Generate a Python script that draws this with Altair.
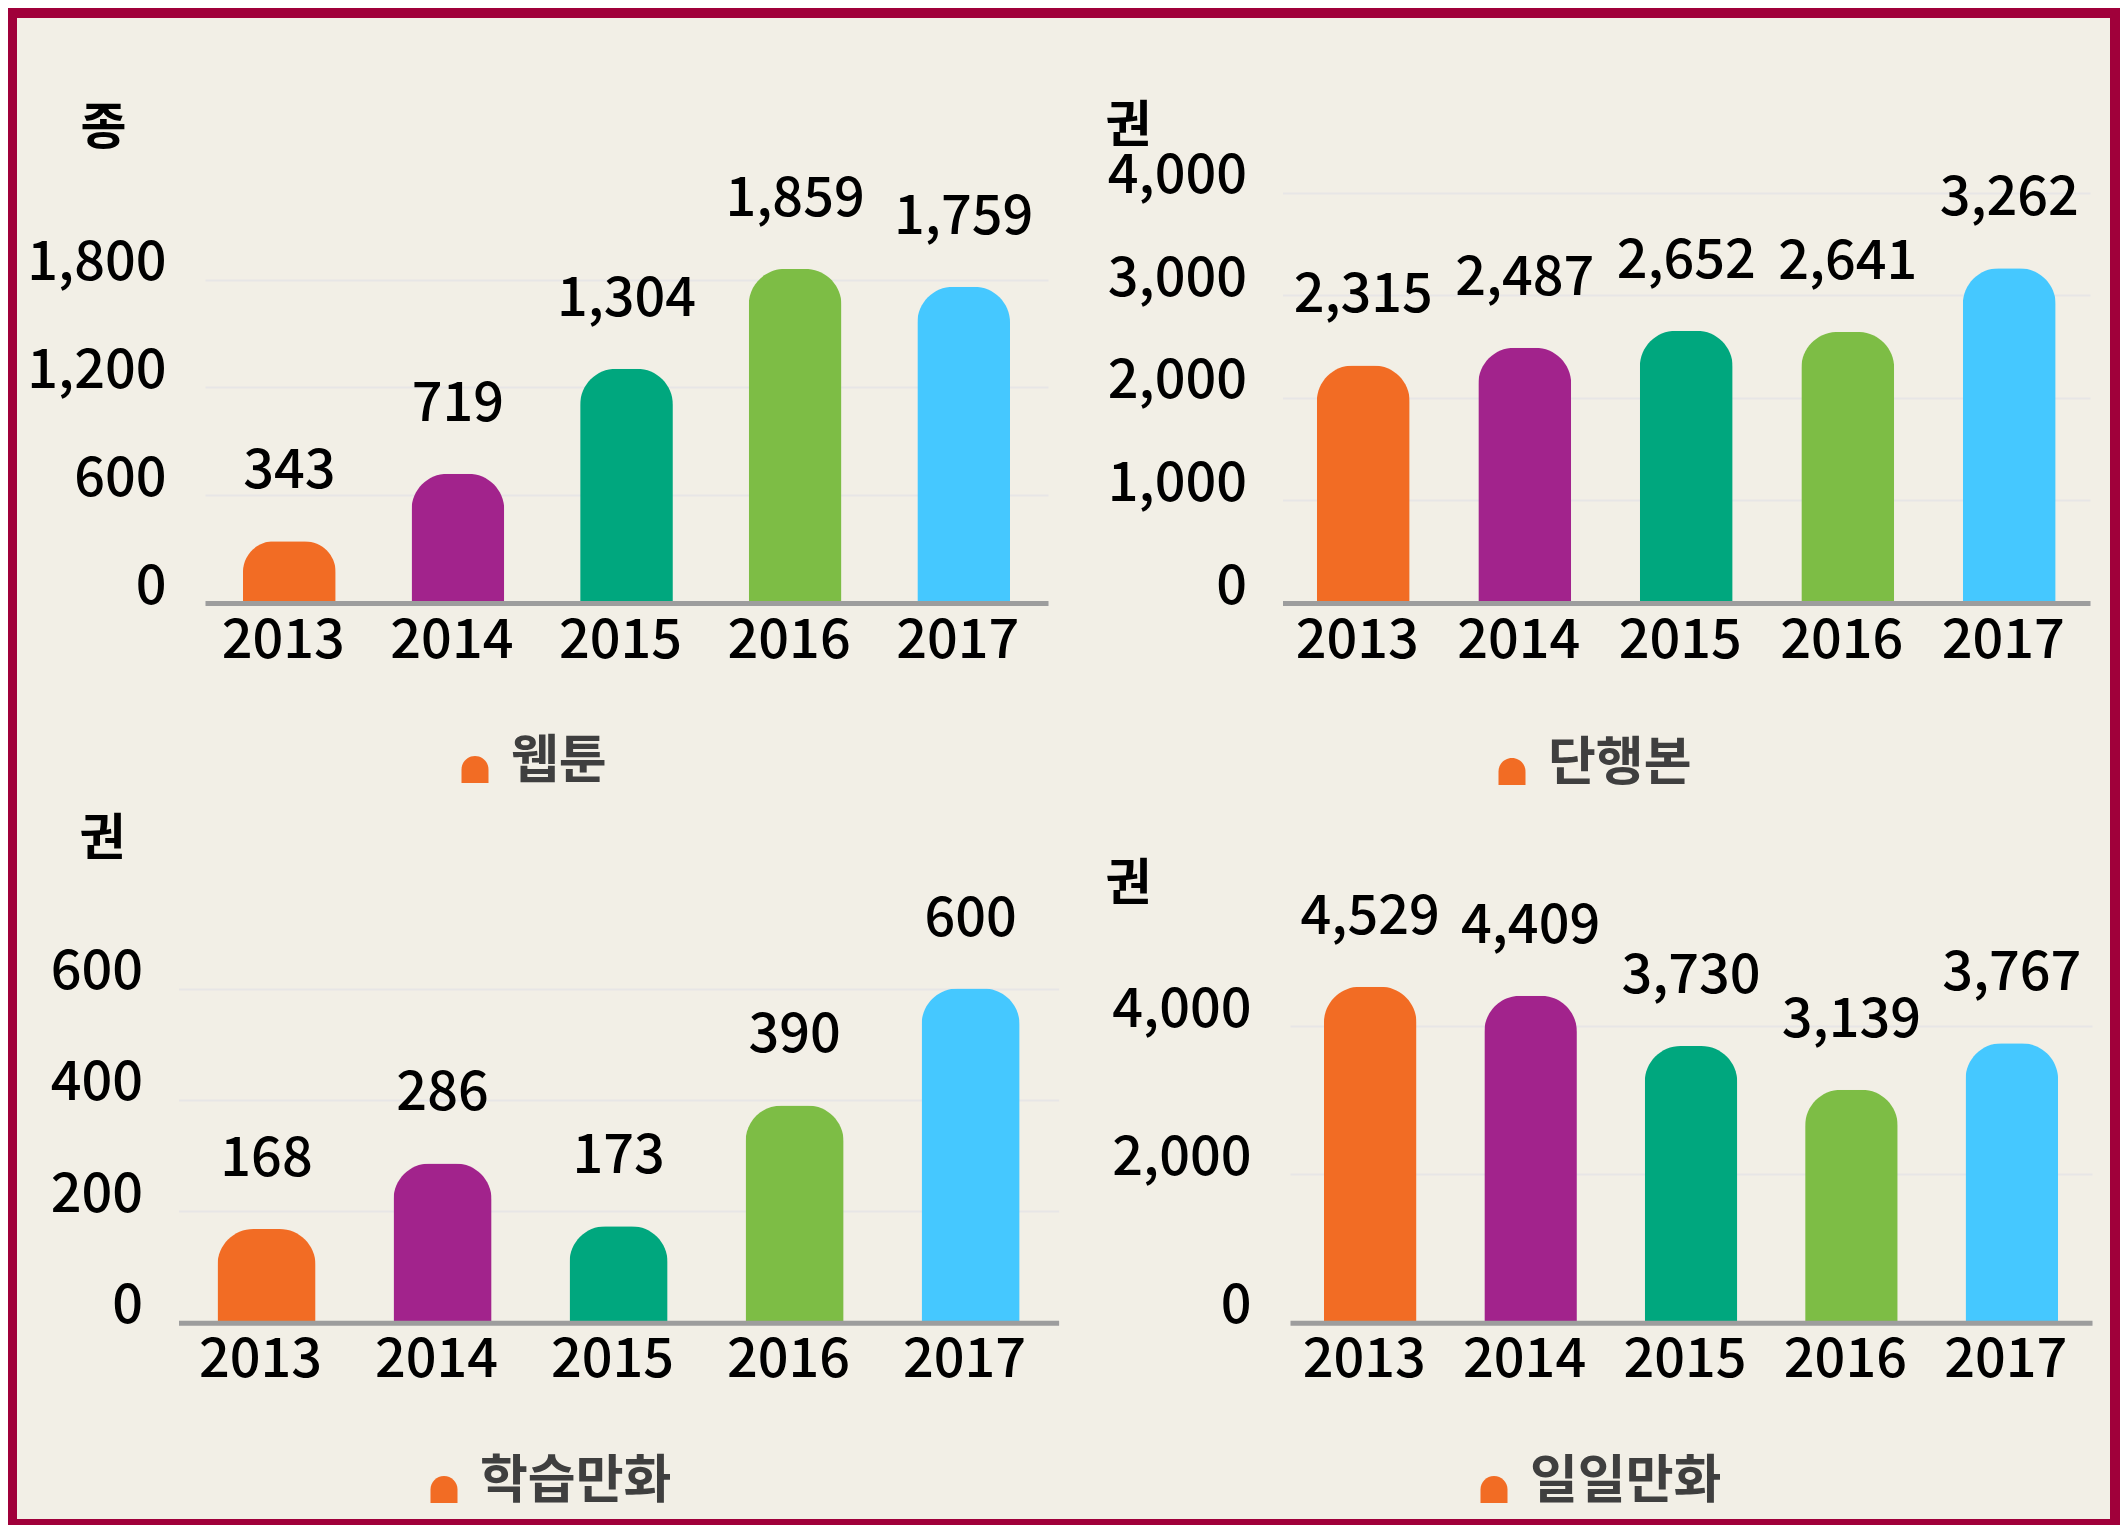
import altair as alt
import pandas as pd

# ---------------- data ----------------
years = ["2013", "2014", "2015", "2016", "2017"]
webtoon = [343, 719, 1304, 1859, 1759]
danhaengbon = [2315, 2487, 2652, 2641, 3262]
hakseup = [168, 286, 173, 390, 600]
ilil = [4529, 4409, 3730, 3139, 3767]
bar_colors = ["#F26C24", "#A2238C", "#00A77E", "#7DBD45", "#45C8FF"]
series_names = ["웹툰", "단행본", "학습만화", "일일만화"]
units = ["종", "권", "권", "권"]
ticks_webtoon = [0, 600, 1200, 1800]
ticks_danhaeng = [0, 1000, 2000, 3000, 4000]
ticks_hakseup = [0, 200, 400, 600]
ticks_ilil = [0, 2000, 4000]

# ---------------- style ----------------
W, H = 2112, 1517
FONT = "Noto Sans CJK KR"
BG = "#F2EFE6"
FRAME = "#A0003A"
LEG_COLOR = "#F26C24"
NUM_SIZE = 54
NUM_WEIGHT = 500
SYMBOL = "M-1,1.55L-1,0.55A1,1 0 0 1 1,0.55L1,1.55Z"

panels = [
    dict(vals=webtoon, name=series_names[0], unit=units[0], ticks=ticks_webtoon,
         xr=[197, 1040], yr=[595, 271.5], ymax=1800, pad=0.45, lpad=39,
         tx=-102, ty=120, lx=441, ly=728),
    dict(vals=danhaengbon, name=series_names[1], unit=units[1], ticks=ticks_danhaeng,
         xr=[1274.5, 2082], yr=[595, 184.5], ymax=4000, pad=0.425, lpad=36,
         tx=-154.5, ty=118, lx=1478, ly=730),
    dict(vals=hakseup, name=series_names[2], unit=units[2], ticks=ticks_hakseup,
         xr=[170.5, 1050.6], yr=[1314.7, 980.5], ymax=600, pad=0.443, lpad=36,
         tx=-76.5, ty=831, lx=410, ly=1448),
    dict(vals=ilil, name=series_names[3], unit=units[3], ticks=ticks_ilil,
         xr=[1282, 2084], yr=[1314.7, 1018], ymax=4000, pad=0.423, lpad=39,
         tx=-162, ty=876, lx=1460, ly=1448),
]

layers = []

frame_df = pd.DataFrame({"k": [0]})
frame = alt.Chart(frame_df).mark_rect(
    filled=False, stroke=FRAME, strokeWidth=10
).encode(
    x=alt.value(4), x2=alt.value(2107), y=alt.value(5), y2=alt.value(1516)
)
layers.append(frame)

for p in panels:
    df = pd.DataFrame({"year": years, "value": p["vals"], "color": bar_colors})
    xscale = alt.Scale(domain=years, range=p["xr"], paddingInner=p["pad"],
                       paddingOuter=p["pad"] / 2)
    yscale = alt.Scale(domain=[0, p["ymax"]], range=p["yr"], nice=False, zero=True)

    bars = alt.Chart(df).mark_bar(
        cornerRadiusTopLeft=36, cornerRadiusTopRight=36
    ).encode(
        x=alt.X("year:N", scale=xscale, sort=years,
                axis=alt.Axis(orient="bottom", offset=p["yr"][0] - H, title=None,
                              domain=True, domainColor="#9D9D9D", domainWidth=5,
                              ticks=False, tickSize=0, labelPadding=11,
                              labelOffset=-6,
                              labelAngle=0, labelFont=FONT, labelFontSize=NUM_SIZE,
                              labelFontWeight=NUM_WEIGHT,
                              labelColor="#000000", grid=False, zindex=1)),
        y=alt.Y("value:Q", scale=yscale,
                axis=alt.Axis(orient="left", offset=-p["xr"][0], values=p["ticks"],
                              format=",.0f", domain=False, ticks=False, tickSize=0,
                              labelBaseline="alphabetic", labelPadding=p["lpad"],
                              labelFont=FONT, labelFontSize=NUM_SIZE,
                              labelFontWeight=NUM_WEIGHT,
                              labelColor="#000000", grid=True, gridColor="#E7E6E6",
                              gridWidth=2, title=p["unit"], titleAngle=0,
                              titleX=p["tx"], titleY=p["ty"], titleFont=FONT,
                              titleFontSize=50, titleFontWeight="bold",
                              titleAlign="center", titleBaseline="middle",
                              titleColor="#000000", zindex=0)),
        color=alt.Color("color:N", scale=None),
    )

    labels = alt.Chart(df).mark_text(
        baseline="alphabetic", align="center", dy=-53, font=FONT,
        fontSize=NUM_SIZE, fontWeight=NUM_WEIGHT, color="#000000"
    ).encode(
        x=alt.X("year:N", scale=xscale, sort=years, axis=None),
        y=alt.Y("value:Q", scale=yscale, axis=None),
        text=alt.Text("value:Q", format=",.0f"),
    )

    leg_df = pd.DataFrame({"series": [p["name"]]})
    legend = alt.Chart(leg_df).mark_point(filled=True, size=0).encode(
        color=alt.Color("series:N", scale=alt.Scale(domain=[p["name"]], range=[LEG_COLOR]),
                        legend=alt.Legend(orient="none", legendX=p["lx"], legendY=p["ly"],
                                          title=None, symbolType=SYMBOL, symbolSize=729,
                                          symbolStrokeWidth=0, symbolOpacity=1,
                                          labelFont=FONT, labelFontSize=52,
                                          labelFontWeight="bold", labelColor="#3F3F3F",
                                          labelOffset=10, labelLimit=600, padding=0)),
    )
    layers += [bars, labels, legend]

chart = alt.layer(*layers).resolve_scale(
    x="independent", y="independent", color="independent"
).resolve_axis(
    x="independent", y="independent"
).resolve_legend(
    color="independent"
).properties(
    width=W, height=H, padding=0,
    autosize=alt.AutoSizeParams(type="none"),
    background=BG,
).configure_view(strokeWidth=0).configure(font=FONT)

chart.save("out.html", embed_options={"renderer": "svg", "actions": False})
